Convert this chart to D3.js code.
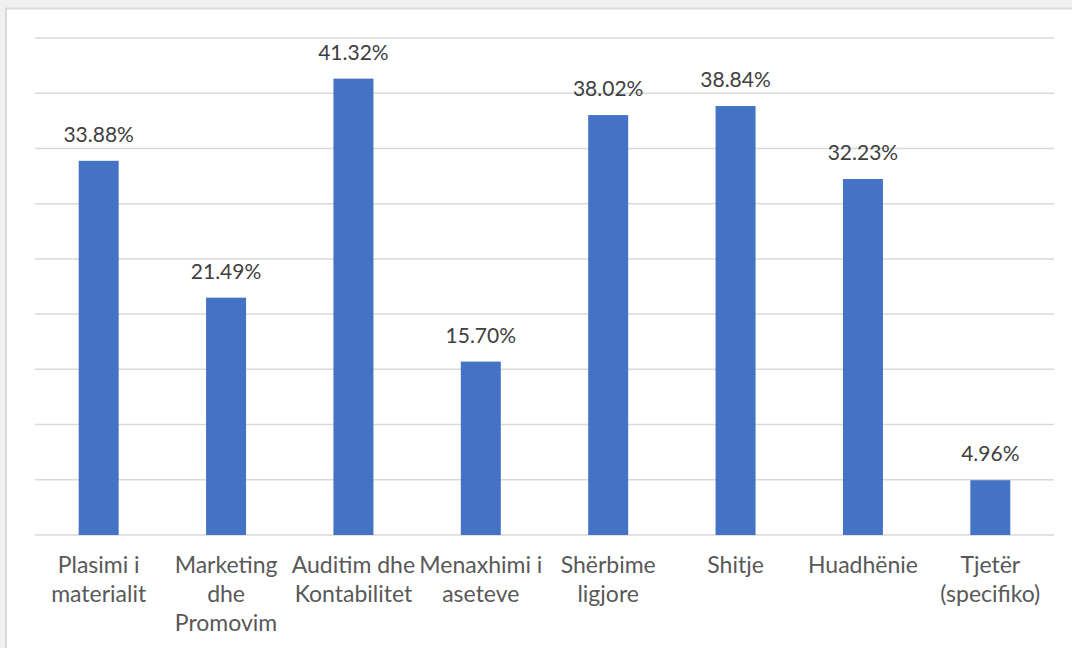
<!DOCTYPE html>
<html><head><meta charset="utf-8">
<script src="https://cdn.jsdelivr.net/npm/d3@7"></script>
<style>
html,body{margin:0;padding:0;background:#f0f0f0;}
svg{display:block;}
</style></head>
<body><svg id="c" width="1072" height="648"></svg>
<script>
(function(){
const categories = ["Plasimi i\nmaterialit","Marketing\ndhe\nPromovim","Auditim dhe\nKontabilitet","Menaxhimi i\naseteve","Shërbime\nligjore","Shitje","Huadhënie","Tjetër\n(specifiko)"];
const values = [33.88, 21.49, 41.32, 15.70, 38.02, 38.84, 32.23, 4.96];
const yTicks = [0,5,10,15,20,25,30,35,40,45];

const svg = d3.select("#c");
const FONT = "Lato, 'Open Sans', sans-serif";
svg.append("rect").attr("x",6).attr("y",8.5).attr("width",1080).attr("height",660)
  .attr("fill","#fff").attr("stroke","#d9d9d9").attr("stroke-width",2);

const L=35, R=1054, T=38, B=535;
const x = d3.scaleBand().domain(categories).range([L,R]).paddingInner(0.686).paddingOuter(0.343);
const y = d3.scaleLinear().domain([0,45]).range([B,T]);

svg.append("g").selectAll("line").data(yTicks).join("line")
  .attr("x1",L).attr("x2",R)
  .attr("y1",d=>y(d)).attr("y2",d=>y(d))
  .attr("stroke","#d9d9d9").attr("stroke-width",1.5);

svg.append("g").selectAll("rect").data(values).join("rect")
  .attr("x",(d,i)=>x(categories[i])).attr("width",x.bandwidth())
  .attr("y",d=>y(d)).attr("height",d=>y(0)-y(d))
  .attr("fill","#4472c4");

svg.append("g").selectAll("text").data(values).join("text")
  .attr("x",(d,i)=>x(categories[i])+x.bandwidth()/2)
  .attr("y",d=>y(d)-19)
  .attr("text-anchor","middle").attr("fill","#404040")
  .style("font-family",FONT).style("font-size","21px")
  .text(d=>d.toFixed(2)+"%");

const lab = svg.append("g").selectAll("text").data(categories).join("text")
  .attr("text-anchor","middle").attr("fill","#595959")
  .style("font-family",FONT).style("font-size","23px");
lab.each(function(d){
  const t=d3.select(this); const cx=x(d)+x.bandwidth()/2;
  d.split("\n").forEach((s,i)=>t.append("tspan").attr("x",cx).attr("y",573+i*29).text(s));
});
})();
</script></body></html>
